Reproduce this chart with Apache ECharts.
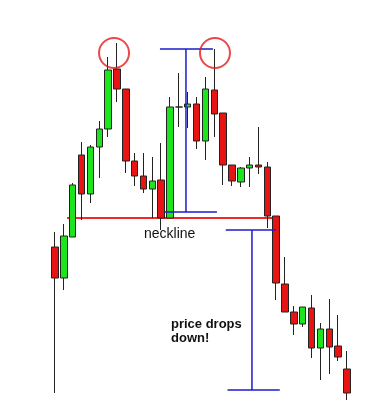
<!DOCTYPE html>
<html>
<head>
<meta charset="utf-8">
<script src="https://cdn.jsdelivr.net/npm/echarts@6/dist/echarts.min.js"></script>
<style>
  html, body { margin: 0; padding: 0; background: #fff; }
  #chart { width: 386px; height: 411px; }
</style>
</head>
<body>
<div id="chart"></div>
<script>
// candle data: [open, close, low, high]
var days = [];
for (var i = 1; i <= 34; i++) days.push("D" + i);
var candles = [
  [164, 133, 18, 179],
  [133, 175, 121, 187],
  [174, 226, 174, 228],
  [256, 217, 191, 269],
  [217, 264, 208, 266],
  [264, 282, 233, 290],
  [282, 341, 274, 354],
  [342, 322, 309, 368],
  [322, 250, 238, 322],
  [250, 235, 225, 258],
  [235, 222, 218, 258],
  [222, 230, 193, 254],
  [231, 193, 181, 268],
  [193, 304, 193, 314],
  [304, 304, 284, 338],
  [304, 307, 283, 319],
  [307, 270, 262, 314],
  [270, 322, 251, 334],
  [321, 297, 274, 362],
  [298, 246, 226, 298],
  [246, 230, 225, 246],
  [229, 243, 224, 244],
  [243, 246, 224, 254],
  [246, 244, 237, 284],
  [244, 195, 183, 249],
  [195, 128, 111, 195],
  [127, 99, 99, 154],
  [99, 87, 76, 105],
  [87, 104, 84, 104],
  [103, 63, 53, 116],
  [63, 82, 31, 88],
  [82, 64, 37, 112],
  [65, 54, 50, 96],
  [42, 18, 11, 60]
];
// annotation points in [candle index, price]
var neckline = [[1.36, 193], [24.6, 193]];
var topRange = [[11.86, 362], [17.85, 362], null, [14.8, 362], [14.8, 199], null, [12.43, 199], [18.3, 199]];
var dropRange = [[19.3, 181], [24.97, 181], null, [22.26, 181], [22.26, 21], null, [19.5, 21], [25.4, 21]];
var peaks = [[6.67, 358], [18.08, 358]];

var data = candles.map(function (c, i) {
  if (c[0] === c[1]) return { value: c, itemStyle: { color: '#222', color0: '#222' } };
  return c;
});

function toLine(pts) {
  return pts.map(function (p) { return p ? p : [NaN, NaN]; });
}

var myChart = echarts.init(document.getElementById('chart'));
var option = {
  animation: false,
  grid: { left: 50.6, right: 34.6, top: 0, bottom: 0 },
  xAxis: [
    { type: 'category', data: days, show: false, boundaryGap: true },
    { type: 'value', min: -0.5, max: 33.5, show: false }
  ],
  yAxis: { type: 'value', min: 0, max: 411, show: false },
  series: [
    {
      type: 'line', xAxisIndex: 1, data: neckline, symbol: 'none', z: 1,
      lineStyle: { color: '#ee2a2a', width: 2 }
    },
    {
      type: 'candlestick', data: data, barWidth: 7, z: 2,
      itemStyle: {
        color: '#1ee41e', color0: '#e81414',
        borderColor: '#222', borderColor0: '#222', borderWidth: 1
      }
    },
    {
      type: 'line', xAxisIndex: 1, data: toLine(topRange), symbol: 'none', z: 3,
      connectNulls: false, lineStyle: { color: '#1c1ccc', width: 1.5 }
    },
    {
      type: 'line', xAxisIndex: 1, data: toLine(dropRange), symbol: 'none', z: 3,
      connectNulls: false, lineStyle: { color: '#1c1ccc', width: 1.5 }
    },
    {
      type: 'scatter', xAxisIndex: 1, data: peaks, symbol: 'circle', symbolSize: 30, z: 4,
      itemStyle: { color: 'rgba(0,0,0,0)', borderColor: '#e41c1c', borderWidth: 2 }
    }
  ],
  graphic: [
    {
      type: 'text', left: 144, top: 227,
      style: { text: 'neckline', font: '14px "Liberation Sans", Arial', fill: '#111' }
    },
    {
      type: 'text', left: 171, top: 317,
      style: { text: 'price drops\ndown!', font: 'bold 13px "Liberation Sans", Arial', fill: '#111', lineHeight: 14 }
    }
  ]
};
myChart.setOption(option);
</script>
</body>
</html>
